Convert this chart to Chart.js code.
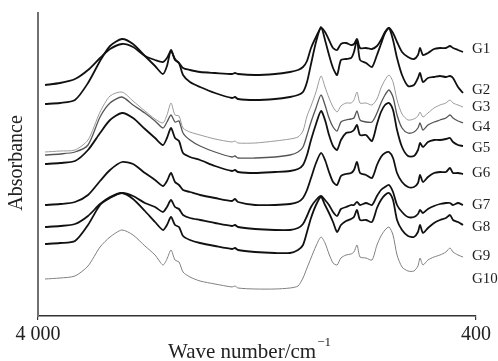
<!DOCTYPE html>
<html><head><meta charset="utf-8">
<script src="https://cdn.jsdelivr.net/npm/chart.js@4/dist/chart.umd.min.js"></script>
<style>html,body{margin:0;padding:0;background:#fff;}#wrap{width:498px;height:361px;}</style>
</head><body><div id="wrap"><canvas id="c" width="498" height="361"></canvas></div>
<script>
// Wavenumber grid (cm^-1)
const wavenumbers = [3942,3819,3696,3589,3490,3408,3310,3219,3121,3038,
2973,2940,2907,2874,2841,2808,2751,2668,2545,2405,
2381,2356,2216,2052,1929,1863,1822,1789,1756,1715,
1674,1641,1608,1575,1542,1510,1468,1427,1403,1378,
1353,1304,1255,1214,1181,1148,1115,1082,1049,1008,
959,910,877,860,836,795,745,696,647,614,
589,548,507];

// Stacked absorbance (arbitrary, offset) values
const G1 = [231,233,237,246,258,267,272,269,260,256,
254,258,265,257,253,248,246,244,243,242,
243,242,241,242,244,246,249,255,268,279,
288,284,276,268,266,272,273,271,272,277,
268,268,267,270,276,284,288,283,274,264,
259,257,261,268,261,263,267,268,268,270,
268,266,264];
const G2 = [212,213,216,233,255,270,277,272,260,250,
242,250,266,256,253,241,234,229,223,218,
219,217,216,217,219,221,224,234,252,274,
289,276,261,248,241,256,257,258,264,276,
256,253,249,261,272,283,288,276,258,241,
230,231,238,243,234,238,239,240,239,240,
238,229,223];
const G3 = [164,165,166,176,204,220,224,215,205,197,
193,201,213,201,200,188,184,181,177,174,
175,173,173,175,177,179,185,200,210,224,
240,229,218,209,204,210,213,213,216,224,
213,213,211,217,228,236,241,234,216,202,
196,197,200,204,199,203,208,211,213,216,
213,211,209];
const G4 = [161,162,164,171,199,213,219,211,203,195,
188,194,201,194,195,183,176,170,164,159,
160,158,158,159,161,164,169,181,194,208,
221,211,198,189,185,194,196,197,198,205,
196,194,194,203,213,221,226,219,201,188,
183,184,188,193,186,191,194,196,198,201,
198,195,193];
const G5 = [152,153,155,166,183,196,203,198,187,178,
171,178,188,178,175,163,159,156,150,145,
146,144,143,144,145,147,151,161,176,192,
205,196,181,170,166,176,183,184,186,191,
181,181,175,192,204,211,213,206,186,169,
160,160,166,173,169,174,176,176,177,178,
174,171,170];
const G6 = [111,112,114,121,135,146,154,152,143,136,
130,135,143,134,131,126,124,121,118,115,
117,114,111,111,112,114,118,126,138,153,
163,156,144,134,131,140,142,143,146,154,
143,141,138,151,159,163,164,158,143,134,
129,129,133,141,134,139,143,144,144,148,
143,143,142];
const G7 = [89,90,92,100,112,119,123,120,113,109,
104,109,116,109,107,101,98,96,93,90,
91,89,87,86,86,88,92,100,109,116,
120,116,111,104,100,107,109,111,111,114,
111,113,111,120,126,129,131,124,111,104,
99,99,102,106,103,107,110,112,113,113,
111,113,111];
const G8 = [72,73,75,91,111,118,123,117,105,94,
86,91,99,91,89,80,76,73,70,67,
68,66,64,63,63,66,71,84,98,111,
119,111,103,94,84,91,95,97,99,106,
96,96,94,108,116,121,123,116,96,86,
80,79,84,91,83,88,93,96,98,101,
96,94,91];
const G9 = [37,38,40,50,69,79,86,81,70,61,
51,57,66,56,54,44,39,35,32,29,
30,28,27,27,28,30,38,48,58,70,
79,73,62,53,51,58,61,62,64,71,
59,58,56,71,80,86,89,81,61,49,
45,45,50,58,51,56,59,61,64,68,
64,61,59];

const seriesNames = ['G1','G2','G3','G4','G5','G6','G7','G8','G9'];
const seriesValues = [G1,G2,G3,G4,G5,G6,G7,G8,G9];

// Right-hand curve labels and the level (same units as values) they sit at
const labelNames = ['G1','G2','G3','G4','G5','G6','G7','G8','G9','G10'];
const labelLevels = [267,226,209,189,168,143,111,89,60,37];

const xTickValues = [4000, 400];
const xTickLabels = ['4 000', '400'];

const styles = {
  G1:{c:'#111',w:1.8}, G2:{c:'#111',w:1.8}, G3:{c:'#9a9a9a',w:1},
  G4:{c:'#555',w:1.3}, G5:{c:'#111',w:1.8}, G6:{c:'#111',w:1.8},
  G7:{c:'#111',w:1.8}, G8:{c:'#111',w:1.8}, G9:{c:'#808080',w:1}
};

const datasets = seriesNames.map((n,i)=>({
  label:n,
  data: wavenumbers.map((w,j)=>({x:w, y:seriesValues[i][j]})),
  borderColor: styles[n].c,
  borderWidth: styles[n].w,
  pointRadius:0,
  fill:false,
  tension:0.25
}));

const FONT = 'Liberation Serif, Times New Roman, serif';

const textPlugin = {
  id:'texts',
  afterDraw(chart){
    const ctx = chart.ctx;
    const xs = chart.scales.x, ys = chart.scales.y;
    ctx.save();
    ctx.fillStyle = '#222';
    // curve labels
    ctx.font = '15px ' + FONT;
    ctx.textAlign = 'left';
    ctx.textBaseline = 'middle';
    const lx = xs.getPixelForValue(433);
    labelNames.forEach((n,i)=>{
      ctx.fillText(n, lx, ys.getPixelForValue(labelLevels[i]));
    });
    // y title
    ctx.save();
    ctx.translate(17, 163);
    ctx.rotate(-Math.PI/2);
    ctx.textAlign = 'center';
    ctx.font = '20px ' + FONT;
    ctx.fillText('Absorbance', 0, 0);
    ctx.restore();
    // x title with superscript
    ctx.font = '21px ' + FONT;
    const main = 'Wave number/cm';
    const mw = ctx.measureText(main).width;
    ctx.font = '13px ' + FONT;
    const sup = '\u22121';
    const sw = ctx.measureText(sup).width;
    const cx = 249;
    const start = cx - (mw + sw)/2;
    ctx.textAlign = 'left';
    ctx.font = '21px ' + FONT;
    ctx.fillText(main, start, 352);
    ctx.font = '13px ' + FONT;
    ctx.fillText(sup, start + mw + 1, 343);
    ctx.restore();
  }
};

new Chart(document.getElementById('c'), {
  type:'line',
  data:{datasets},
  plugins:[textPlugin],
  options:{
    responsive:false,
    devicePixelRatio:1,
    animation:false,
    layout:{padding:{left:0, top:13, right:22, bottom:0}},
    plugins:{legend:{display:false}, tooltip:{enabled:false}},
    scales:{
      x:{
        type:'linear', reverse:true, min:400, max:4000,
        afterBuildTicks:(s)=>{ s.ticks = xTickValues.map(v=>({value:v})); },
        afterFit:(s)=>{ s.height = 45; },
        ticks:{
          callback:(v)=> xTickLabels[xTickValues.indexOf(v)],
          font:{family:FONT, size:20}, color:'#222',
          maxRotation:0, autoSkip:false, padding:3
        },
        grid:{display:true, drawOnChartArea:false, drawTicks:true, tickLength:4, color:'#333', lineWidth:1.2},
        border:{display:true, color:'#333', width:1.5}
      },
      y:{
        type:'linear', min:0, max:303,
        afterFit:(s)=>{ s.width = 38; },
        ticks:{display:false},
        grid:{display:false},
        border:{display:true, color:'#707070', width:2}
      }
    }
  }
});
</script>
</body></html>
